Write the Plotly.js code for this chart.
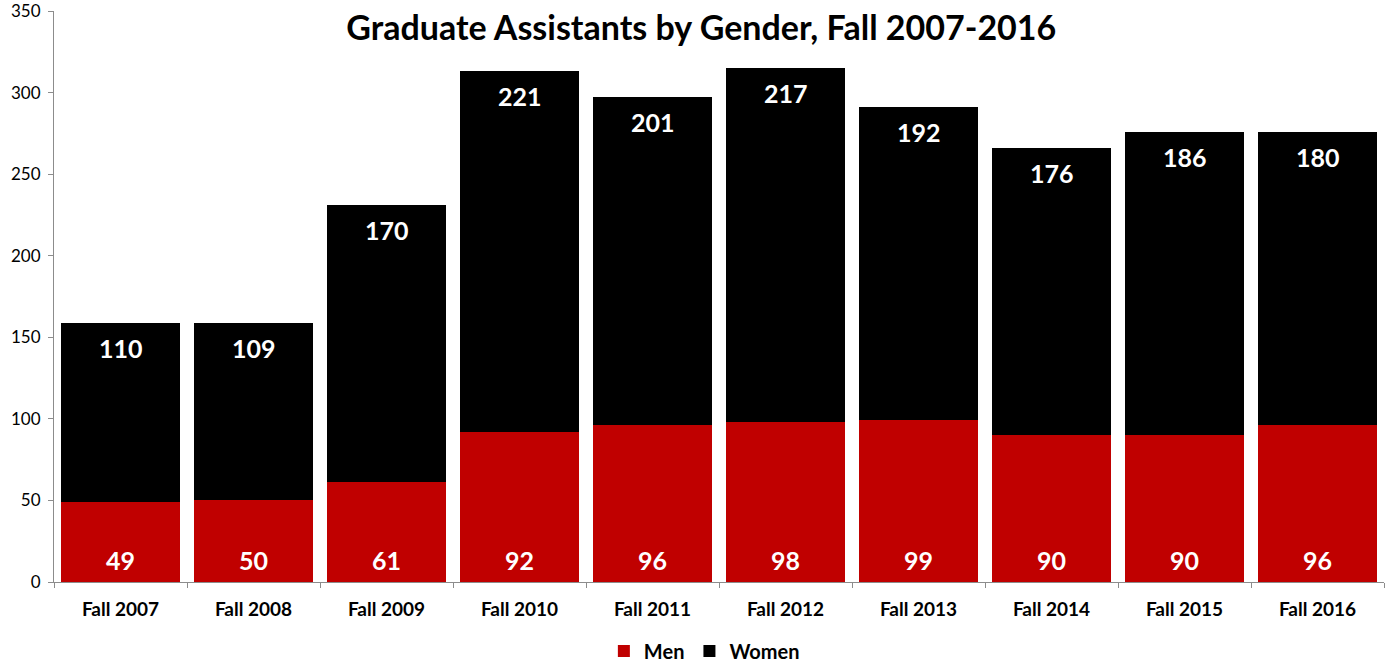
<!DOCTYPE html>
<html><head><meta charset="utf-8">
<script src="https://cdn.plot.ly/plotly-3.0.1.min.js"></script>
<style>html,body{margin:0;padding:0;background:#fff}#chart{width:1386px;height:663px}</style>
</head><body><div id="chart"></div>
<script>
const categories = ["Fall 2007","Fall 2008","Fall 2009","Fall 2010","Fall 2011","Fall 2012","Fall 2013","Fall 2014","Fall 2015","Fall 2016"];
const men = [49,50,61,92,96,98,99,90,90,96];
const women = [110,109,170,221,201,217,192,176,186,180];
const FONT = "Lato, 'Open Sans', sans-serif";

const traces = [
  {type:'bar', name:'Men', x:categories, y:men, marker:{color:'#C00000'}, hoverinfo:'y'},
  {type:'bar', name:'Women', x:categories, y:women, marker:{color:'#000000'}, hoverinfo:'y'}
];
const annotations = [];
categories.forEach((c,i)=>{
  annotations.push({x:c, y:0, yref:'y', xref:'x', text:String(men[i]), showarrow:false,
    yshift:22, font:{family:FONT, size:25, color:'#fff', weight:'bold'}});
  annotations.push({x:c, y:men[i]+women[i], yref:'y', xref:'x', text:String(women[i]), showarrow:false,
    yshift:-25, font:{family:FONT, size:25, color:'#fff', weight:'bold'}});
});
const layout = {
  width:1386, height:663,
  margin:{l:54, r:2, t:11, b:81, autoexpand:false},
  barmode:'stack', bargap:0.1,
  paper_bgcolor:'#fff', plot_bgcolor:'#fff',
  title:{text:'Graduate Assistants by Gender, Fall 2007-2016', xref:'container', x:0.506, xanchor:'center',
    yref:'container', y:0.958, yanchor:'middle', font:{family:FONT, size:34, color:'#000', weight:'bold'}},
  xaxis:{type:'category', automargin:false, showgrid:false, showline:true, linecolor:'#8c8c8c', linewidth:1,
    ticks:'outside', tickson:'boundaries', ticklen:5, tickcolor:'#8c8c8c',
    tickfont:{family:FONT, size:19, color:'#000', weight:'bold'}, ticklabelstandoff:10},
  yaxis:{range:[0,350], automargin:false, dtick:50, showgrid:false, showline:true, linecolor:'#8c8c8c', linewidth:1,
    ticks:'outside', ticklen:5, tickcolor:'#8c8c8c', zeroline:false, ticklabeloverflow:'allow',
    tickfont:{family:FONT, size:17, color:'#000'}, ticklabelstandoff:4},
  legend:{orientation:'h', x:0.489, xanchor:'center', y:-0.121, yanchor:'middle',
    font:{family:FONT, size:20, color:'#000', weight:'bold'}, traceorder:'normal', itemwidth:30},
  annotations:annotations,
  showlegend:true
};
Plotly.newPlot('chart', traces, layout, {displayModeBar:false, staticPlot:true});
</script></body></html>
